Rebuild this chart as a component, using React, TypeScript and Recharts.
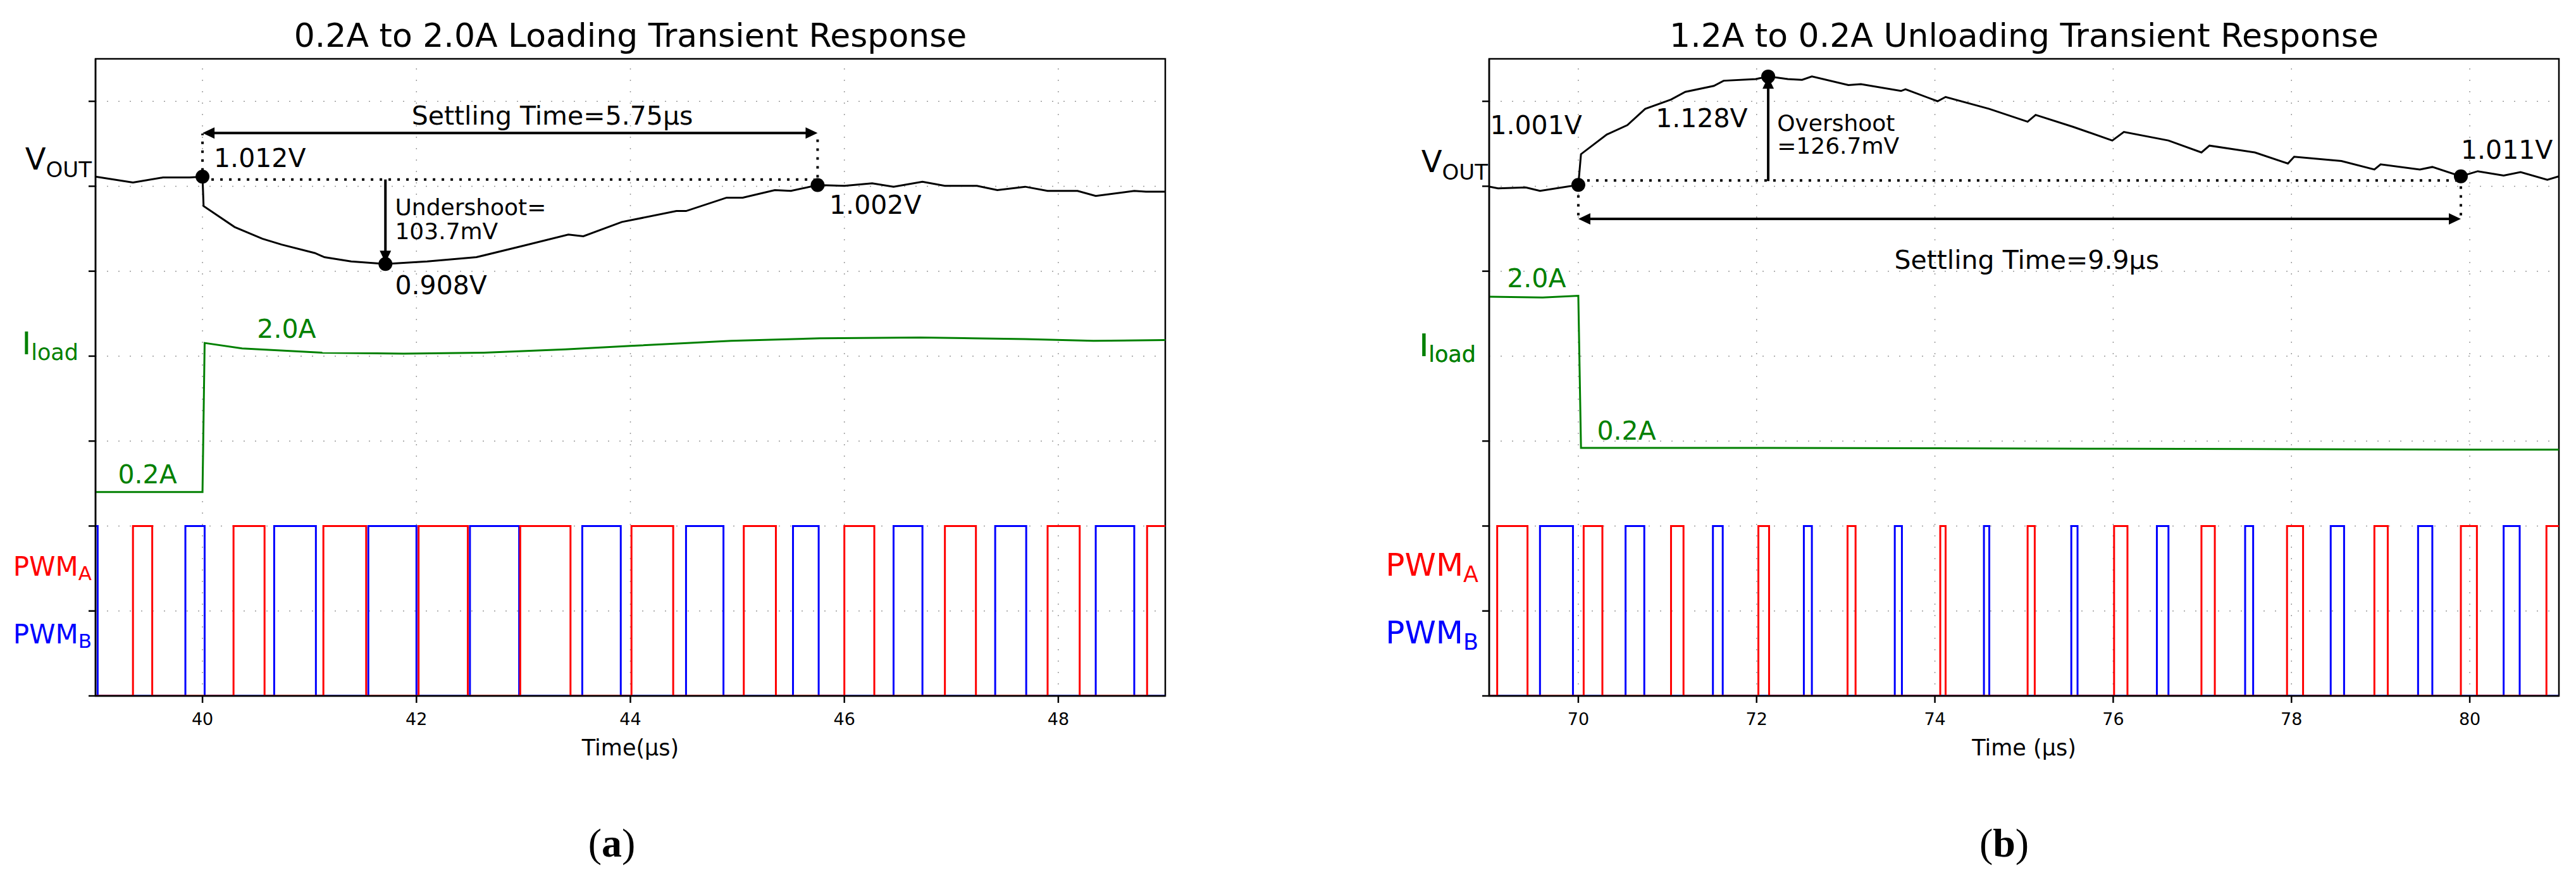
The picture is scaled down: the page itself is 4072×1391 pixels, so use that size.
import React from 'react';
import {
  ComposedChart,
  Line,
  XAxis,
  YAxis,
  ReferenceLine,
  ReferenceDot,
  ReferenceArea,
} from 'recharts';

type Pair = [number, number];

const FONT = '"DejaVu Sans", sans-serif';
const PAGE_W = 4072;
const PAGE_H = 1391;
const PLOT_TOP = 93;
const PLOT_BOTTOM = 1100;
const X_AXIS_H = 100;
const Y_MAX = 7.5;
const Y_TICKS = [0, 1, 2, 3, 4, 5, 6, 7];
const PWM_HI = 2;
const PWM_LO = 0;

// ---- (a) 0.2A -> 2.0A loading ----
const loadTimeTicks = [40, 42, 44, 46, 48];
// time (us), Vout (V)
const loadVout: Pair[] = [
  [39.0, 1.012], [39.35, 1.005], [39.63, 1.011], [39.88, 1.011], [40.0, 1.012],
  [40.01, 0.977], [40.3, 0.952], [40.56, 0.938], [40.74, 0.931], [41.05, 0.921],
  [41.14, 0.916], [41.39, 0.911], [41.71, 0.908], [42.1, 0.911], [42.56, 0.916],
  [43.01, 0.93], [43.42, 0.943], [43.56, 0.941], [43.92, 0.958], [44.43, 0.971],
  [44.52, 0.971], [44.9, 0.987], [45.05, 0.987], [45.35, 0.996], [45.5, 0.995],
  [45.75, 1.002], [46.0, 1.001], [46.26, 1.004], [46.46, 1.0], [46.73, 1.006],
  [46.94, 1.001], [47.24, 1.001], [47.43, 0.996], [47.69, 1.0], [47.9, 0.995],
  [48.18, 0.995], [48.35, 0.989], [48.71, 0.995], [48.82, 0.994], [49.0, 0.994],
];
// time (us), Iload (A)
const loadIload: Pair[] = [
  [39.0, 0.2], [40.0, 0.2], [40.02, 1.955], [40.37, 1.89], [41.12, 1.84],
  [41.88, 1.83], [42.63, 1.84], [43.39, 1.88], [44.0, 1.92], [44.56, 1.955],
  [44.94, 1.98], [45.77, 2.01], [46.71, 2.02], [47.2, 2.01], [47.69, 2.0],
  [48.33, 1.98], [49.0, 1.99],
];
// on-pulses [rise, fall] in us
const loadPwmA: Pair[] = [
  [39.35, 39.53], [40.29, 40.58], [41.13, 41.53], [42.02, 42.48], [42.97, 43.44],
  [44.01, 44.4], [45.06, 45.36], [46.0, 46.28], [46.94, 47.23], [47.9, 48.2],
  [48.83, 49.3],
];
const loadPwmB: Pair[] = [
  [38.8, 39.02], [39.84, 40.02], [40.67, 41.06], [41.55, 42.0], [42.5, 42.96],
  [43.55, 43.91], [44.52, 44.87], [45.52, 45.76], [46.46, 46.73], [47.41, 47.7],
  [48.35, 48.71],
];
const loadMarks: Pair[] = [[40.0, 1.012], [41.71, 0.908], [45.75, 1.002]];

// ---- (b) 1.2A -> 0.2A unloading ----
const unloadTimeTicks = [70, 72, 74, 76, 78, 80];
const unloadVout: Pair[] = [
  [69.0, 0.999], [69.1, 0.997], [69.41, 0.998], [69.57, 0.994], [70.0, 1.001],
  [70.03, 1.037], [70.32, 1.06], [70.55, 1.071], [70.75, 1.09], [71.04, 1.101],
  [71.2, 1.11], [71.52, 1.117], [71.63, 1.123], [71.99, 1.125], [72.13, 1.128],
  [72.35, 1.125], [72.51, 1.124], [72.62, 1.128], [73.03, 1.118], [73.17, 1.119],
  [73.62, 1.111], [73.67, 1.113], [74.03, 1.099], [74.12, 1.104], [74.61, 1.09],
  [75.04, 1.075], [75.13, 1.083], [75.55, 1.069], [75.99, 1.053], [76.12, 1.063],
  [76.62, 1.053], [76.99, 1.039], [77.08, 1.047], [77.59, 1.039], [77.96, 1.026],
  [78.03, 1.034], [78.56, 1.029], [78.93, 1.019], [79.0, 1.025], [79.44, 1.019],
  [79.58, 1.022], [79.9, 1.011], [80.09, 1.017], [80.38, 1.012], [80.57, 1.016],
  [80.87, 1.007], [81.0, 1.011],
];
const unloadIload: Pair[] = [
  [69.0, 1.98], [69.6, 1.97], [70.0, 1.99], [70.03, 0.2], [72.0, 0.2],
  [74.0, 0.195], [76.0, 0.19], [78.0, 0.185], [80.0, 0.18], [81.0, 0.18],
];
const unloadPwmA: Pair[] = [
  [69.09, 69.43], [70.06, 70.27], [71.04, 71.18], [72.02, 72.14], [73.02, 73.11],
  [74.06, 74.12], [75.04, 75.12], [76.01, 76.16], [76.99, 77.14], [77.95, 78.13],
  [78.93, 79.08], [79.9, 80.08], [80.86, 81.3],
];
const unloadPwmB: Pair[] = [
  [69.57, 69.94], [70.53, 70.74], [71.51, 71.62], [72.53, 72.62], [73.55, 73.63],
  [74.55, 74.61], [75.53, 75.6], [76.49, 76.62], [77.48, 77.57], [78.44, 78.59],
  [79.42, 79.58], [80.38, 80.56],
];
const unloadMarks: Pair[] = [[70.0, 1.001], [72.13, 1.128], [79.9, 1.011]];

// annotation types (positions in plot divisions)
type Note = { t: number; u: number; text: string; size: number; color?: string; anchor?: 'start' | 'middle' | 'end' };
type Seg = { x1: number; y1: number; x2: number; y2: number; both?: boolean };
type AxisLabel = { at: number; main: string; sub: string; color: string; size: number; subSize: number; dy: number; gap: number };

const GREEN = '#008000';

const loadNotes: Note[] = [
  { t: 40.106, u: 6.33, text: '1.012V', size: 41 },
  { t: 41.8, u: 5.756, text: 'Undershoot=', size: 36 },
  { t: 41.8, u: 5.473, text: '103.7mV', size: 36 },
  { t: 41.8, u: 4.832, text: '0.908V', size: 41 },
  { t: 45.86, u: 5.778, text: '1.002V', size: 41 },
  { t: 43.27, u: 6.83, text: 'Settling Time=5.75µs', size: 41, anchor: 'middle' },
  { t: 40.51, u: 4.32, text: '2.0A', size: 41, color: GREEN },
  { t: 39.21, u: 2.606, text: '0.2A', size: 41, color: GREEN },
];
const loadDotted: Seg[] = [
  { x1: 40, y1: 6.08, x2: 45.72, y2: 6.08 },
  { x1: 40, y1: 6.08, x2: 40, y2: 6.62 },
  { x1: 45.75, y1: 6.0, x2: 45.75, y2: 6.62 },
];
const loadArrows: Seg[] = [
  { x1: 40, y1: 6.627, x2: 45.75, y2: 6.627, both: true },
  { x1: 41.71, y1: 6.08, x2: 41.71, y2: 5.1 },
];

const unloadNotes: Note[] = [
  { t: 69.01, u: 6.72, text: '1.001V', size: 41 },
  { t: 71.9, u: 6.8, text: '1.128V', size: 41, anchor: 'end' },
  { t: 72.23, u: 6.746, text: 'Overshoot', size: 36 },
  { t: 72.23, u: 6.478, text: '=126.7mV', size: 36 },
  { t: 75.03, u: 5.13, text: 'Settling Time=9.9µs', size: 41, anchor: 'middle' },
  { t: 79.9, u: 6.426, text: '1.011V', size: 41 },
  { t: 69.2, u: 4.914, text: '2.0A', size: 41, color: GREEN },
  { t: 70.21, u: 3.12, text: '0.2A', size: 41, color: GREEN },
];
const unloadDotted: Seg[] = [
  { x1: 70, y1: 6.069, x2: 79.85, y2: 6.069 },
  { x1: 70, y1: 6.0, x2: 70, y2: 5.62 },
  { x1: 79.9, y1: 6.0, x2: 79.9, y2: 5.62 },
];
const unloadArrows: Seg[] = [
  { x1: 70, y1: 5.615, x2: 79.9, y2: 5.615, both: true },
  { x1: 72.13, y1: 6.06, x2: 72.13, y2: 7.29 },
];

const loadAxisLabels: AxisLabel[] = [
  { at: 6.195, main: 'V', sub: 'OUT', color: '#000', size: 48, subSize: 34, dy: 12, gap: 6 },
  { at: 4.021, main: 'I', sub: 'load', color: GREEN, size: 50, subSize: 35, dy: 9, gap: 27 },
  { at: 1.415, main: 'PWM', sub: 'A', color: '#ff0000', size: 42, subSize: 31, dy: 7, gap: 6 },
  { at: 0.618, main: 'PWM', sub: 'B', color: '#0000ff', size: 42, subSize: 31, dy: 7, gap: 6 },
];
const unloadAxisLabels: AxisLabel[] = [
  { at: 6.17, main: 'V', sub: 'OUT', color: '#000', size: 48, subSize: 34, dy: 12, gap: 2 },
  { at: 4.0, main: 'I', sub: 'load', color: GREEN, size: 50, subSize: 35, dy: 9, gap: 21 },
  { at: 1.415, main: 'PWM', sub: 'A', color: '#ff0000', size: 50, subSize: 35, dy: 10, gap: 17 },
  { at: 0.618, main: 'PWM', sub: 'B', color: '#0000ff', size: 50, subSize: 35, dy: 10, gap: 17 },
];

const pulseTrace = (pulses: Pair[], start: number, end: number) => {
  const pts = [{ t: start - 1, y: PWM_LO }];
  pulses.forEach(([r, f]) => {
    pts.push({ t: r, y: PWM_HI }, { t: f, y: PWM_LO });
  });
  pts.push({ t: end + 1, y: PWM_LO });
  return pts;
};

const arrowShape = (both: boolean) => (p: any) => {
  const { x1, y1, x2, y2 } = p;
  const dx = x2 - x1;
  const dy = y2 - y1;
  const len = Math.hypot(dx, dy) || 1;
  const ux = dx / len;
  const uy = dy / len;
  const L = 19;
  const W = 9;
  const head = (tx: number, ty: number, ex: number, ey: number) =>
    `${tx},${ty} ${tx - ex * L - ey * W},${ty - ey * L + ex * W} ${tx - ex * L + ey * W},${ty - ey * L - ex * W}`;
  return (
    <g>
      <line
        x1={both ? x1 + ux * (L - 2) : x1}
        y1={both ? y1 + uy * (L - 2) : y1}
        x2={x2 - ux * (L - 2)}
        y2={y2 - uy * (L - 2)}
        stroke="#000"
        strokeWidth={4}
      />
      <polygon points={head(x2, y2, ux, uy)} fill="#000" />
      {both && <polygon points={head(x1, y1, -ux, -uy)} fill="#000" />}
    </g>
  );
};

interface PanelProps {
  chartLeft: number;
  chartWidth: number;
  plotLeft: number;
  plotRight: number;
  title: string;
  xLabel: string;
  domain: Pair;
  ticks: number[];
  vout: Pair[];
  iload: Pair[];
  pwmA: Pair[];
  pwmB: Pair[];
  marks: Pair[];
  notes: Note[];
  dotted: Seg[];
  arrows: Seg[];
  labels: AxisLabel[];
  vScale: { v0: number; u0: number; k: number };
  iOffset: number;
}

function Panel(props: PanelProps) {
  const {
    chartLeft, chartWidth, plotLeft, plotRight, title, xLabel, domain, ticks,
    vout, iload, pwmA, pwmB, marks, notes, dotted, arrows, labels, vScale, iOffset,
  } = props;
  const vdiv = (v: number) => vScale.u0 + (v - vScale.v0) * vScale.k;
  const voutData = vout.map(([t, v]) => ({ t, y: vdiv(v) }));
  const iloadData = iload.map(([t, i]) => ({ t, y: i + iOffset }));
  const pwmAData = pulseTrace(pwmA, domain[0], domain[1]);
  const pwmBData = pulseTrace(pwmB, domain[0], domain[1]);
  const plotX = plotLeft - chartLeft;
  const yAxisW = 1;

  const renderYTick = (p: any) => {
    const v = p.payload.value;
    const lab = labels.find((l) => Math.abs(l.at - v) < 1e-6);
    if (lab) {
      return (
        <text x={plotX - lab.gap} y={p.y} textAnchor="end" fill={lab.color} fontFamily={FONT} fontSize={lab.size}>
          {lab.main}
          <tspan dy={lab.dy} fontSize={lab.subSize}>{lab.sub}</tspan>
        </text>
      );
    }
    return <line x1={plotX - 11} x2={plotX} y1={p.y} y2={p.y} stroke="#000" strokeWidth={2.5} />;
  };

  return (
    <div style={{ position: 'absolute', left: chartLeft, top: 0, width: chartWidth, height: PAGE_H }}>
      <ComposedChart
        width={chartWidth}
        height={PAGE_H}
        margin={{
          top: PLOT_TOP,
          left: plotX - yAxisW,
          right: chartLeft + chartWidth - plotRight,
          bottom: PAGE_H - PLOT_BOTTOM - X_AXIS_H,
        }}
      >
        <XAxis
          type="number"
          dataKey="t"
          domain={domain}
          ticks={ticks}
          allowDataOverflow
          interval={0}
          height={X_AXIS_H}
          tickSize={11}
          tickMargin={16}
          axisLine={{ stroke: '#000', strokeWidth: 2.5 }}
          tickLine={{ stroke: '#000', strokeWidth: 2.5 }}
          tick={{ fill: '#000', fontSize: 27, fontFamily: FONT }}
          label={{ value: xLabel, position: 'insideBottom', offset: 6, fill: '#000', fontSize: 35, fontFamily: FONT }}
        />
        <YAxis
          type="number"
          domain={[0, Y_MAX]}
          ticks={[...Y_TICKS, ...labels.map((l) => l.at)]}
          allowDataOverflow
          interval={0}
          width={yAxisW}
          tickLine={false}
          axisLine={{ stroke: '#000', strokeWidth: 2.5 }}
          tick={renderYTick}
        />

        {Y_TICKS.slice(1).map((v) => (
          <ReferenceLine key={`gy${v}`} y={v} stroke="#9a9a9a" strokeWidth={1.5} strokeDasharray="2 16" />
        ))}
        {ticks.map((t) => (
          <ReferenceLine key={`gx${t}`} x={t} stroke="#9a9a9a" strokeWidth={1.5} strokeDasharray="2 16" />
        ))}

        <Line data={pwmBData} dataKey="y" type="stepAfter" stroke="#0000ff" strokeWidth={3} dot={false} activeDot={false} isAnimationActive={false} />
        <Line data={pwmAData} dataKey="y" type="stepAfter" stroke="#ff0000" strokeWidth={3} dot={false} activeDot={false} isAnimationActive={false} />
        <Line data={iloadData} dataKey="y" type="linear" stroke={GREEN} strokeWidth={3} dot={false} activeDot={false} isAnimationActive={false} />
        <Line data={voutData} dataKey="y" type="linear" stroke="#000" strokeWidth={3} dot={false} activeDot={false} isAnimationActive={false} />

        {dotted.map((s, i) => (
          <ReferenceLine
            key={`d${i}`}
            segment={[{ x: s.x1, y: s.y1 }, { x: s.x2, y: s.y2 }]}
            stroke="#000"
            strokeWidth={4}
            strokeDasharray="4 10"
            ifOverflow="visible"
          />
        ))}
        {arrows.map((s, i) => (
          <ReferenceLine
            key={`a${i}`}
            segment={[{ x: s.x1, y: s.y1 }, { x: s.x2, y: s.y2 }]}
            ifOverflow="visible"
            shape={arrowShape(!!s.both)}
          />
        ))}
        {marks.map(([t, v], i) => (
          <ReferenceDot key={`m${i}`} x={t} y={vdiv(v)} r={11} fill="#000" stroke="none" ifOverflow="visible" />
        ))}
        {notes.map((n, i) => (
          <ReferenceDot
            key={`n${i}`}
            x={n.t}
            y={n.u}
            r={0}
            ifOverflow="visible"
            shape={(p: any) => (
              <text
                x={p.cx}
                y={p.cy}
                textAnchor={n.anchor ?? 'start'}
                dominantBaseline="central"
                fontSize={n.size}
                fontFamily={FONT}
                fill={n.color ?? '#000'}
              >
                {n.text}
              </text>
            )}
          />
        ))}

        <ReferenceArea
          x1={domain[0]}
          x2={domain[1]}
          y1={0}
          y2={Y_MAX}
          fill="none"
          fillOpacity={0}
          stroke="#000"
          strokeWidth={2.5}
          ifOverflow="visible"
        />
      </ComposedChart>
      <div
        style={{
          position: 'absolute',
          left: plotX,
          width: plotRight - plotLeft,
          top: 25,
          height: 62,
          lineHeight: '62px',
          textAlign: 'center',
          fontFamily: FONT,
          fontSize: 52,
          color: '#000',
          whiteSpace: 'nowrap',
        }}
      >
        {title}
      </div>
    </div>
  );
}

function Caption({ cx, letter }: { cx: number; letter: string }) {
  return (
    <div
      style={{
        position: 'absolute',
        left: cx - 100,
        width: 200,
        top: 1296,
        height: 74,
        lineHeight: '74px',
        textAlign: 'center',
        fontFamily: '"Liberation Serif", serif',
        fontSize: 64,
        color: '#000',
      }}
    >
      (<b>{letter}</b>)
    </div>
  );
}

export default function App() {
  return (
    <div style={{ position: 'absolute', left: 0, top: 0, width: PAGE_W, height: PAGE_H, background: '#fff', overflow: 'hidden' }}>
      <Panel
        chartLeft={0}
        chartWidth={2000}
        plotLeft={151}
        plotRight={1842}
        title="0.2A to 2.0A Loading Transient Response"
        xLabel="Time(µs)"
        domain={[39, 49]}
        ticks={loadTimeTicks}
        vout={loadVout}
        iload={loadIload}
        pwmA={loadPwmA}
        pwmB={loadPwmB}
        marks={loadMarks}
        notes={loadNotes}
        dotted={loadDotted}
        arrows={loadArrows}
        labels={loadAxisLabels}
        vScale={{ v0: 1.012, u0: 6.113, k: 9.88 }}
        iOffset={2.2}
      />
      <Panel
        chartLeft={2100}
        chartWidth={1972}
        plotLeft={2354}
        plotRight={4045}
        title="1.2A to 0.2A Unloading Transient Response"
        xLabel="Time (µs)"
        domain={[69, 81]}
        ticks={unloadTimeTicks}
        vout={unloadVout}
        iload={unloadIload}
        pwmA={unloadPwmA}
        pwmB={unloadPwmB}
        marks={unloadMarks}
        notes={unloadNotes}
        dotted={unloadDotted}
        arrows={unloadArrows}
        labels={unloadAxisLabels}
        vScale={{ v0: 1.001, u0: 6.016, k: 10.05 }}
        iOffset={2.72}
      />
      <Caption cx={967} letter="a" />
      <Caption cx={3168} letter="b" />
    </div>
  );
}
